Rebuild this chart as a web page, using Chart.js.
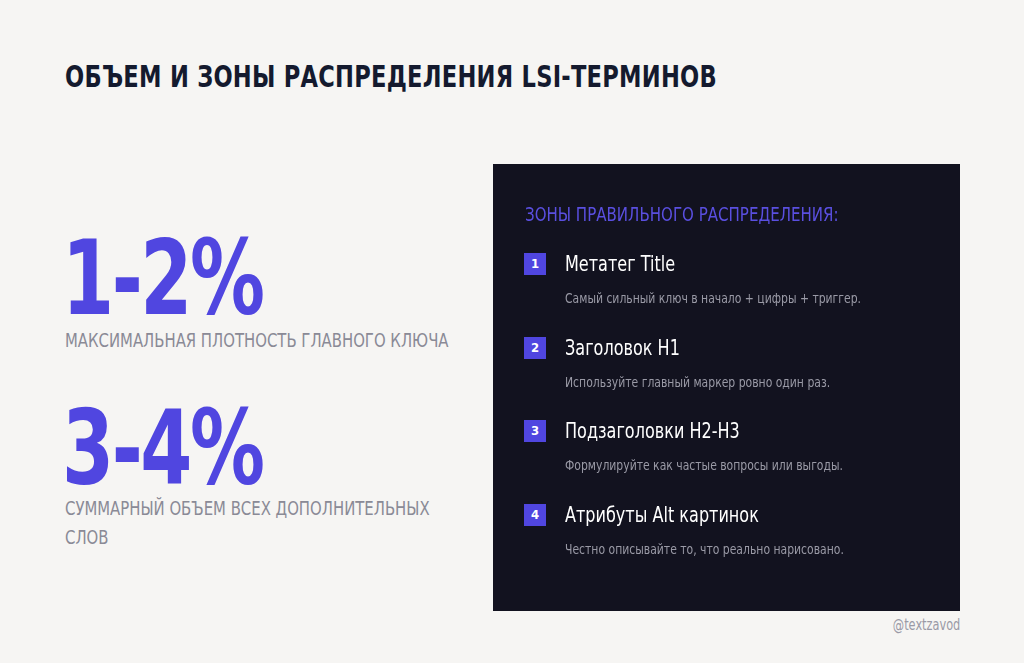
<!DOCTYPE html>
<html><head><meta charset="utf-8">
<script src="https://cdn.jsdelivr.net/npm/chart.js@4/dist/chart.umd.min.js"></script>
<style>
body{margin:0;width:1024px;height:663px;background:#f6f5f3;font-family:"DejaVu Sans Condensed","DejaVu Sans",sans-serif;position:relative;overflow:hidden}
.a{position:absolute;white-space:nowrap;transform-origin:left top}
#title{left:65px;top:58px;font-size:31px;font-weight:bold;color:#141a2e;letter-spacing:0.3px;transform:scaleX(0.81)}
.big{font-size:104px;font-weight:bold;color:#5046e0;line-height:1;left:62px;letter-spacing:-3px;transform:scaleX(0.8)}
.sub{font-size:19px;color:#8a8a96;left:65px;line-height:29px;transform:scaleX(0.87)}
#panel{left:493px;top:164px;width:467px;height:447px;background:#12121f}
#head{left:525px;top:203px;font-size:19px;color:#5a4fe0;transform:scaleX(0.88)}
.badge{left:524px;width:22px;height:22px;background:#5046e0;color:#fff;font-size:13px;font-weight:bold;text-align:center;line-height:22px}
.it{left:565px;font-size:21px;color:#fff;transform:scaleX(0.85)}
.ds{left:565px;font-size:14px;color:#9a9aa6;transform:scaleX(0.86)}
#foot{right:64px;top:616px;font-size:15px;color:#9a9aa6;transform-origin:right top;transform:scaleX(0.84)}
#c{position:absolute;left:493px;top:164px}
</style></head><body>
<div id="panel" class="a"></div>
<canvas id="c" width="467" height="447"></canvas>
<div id="root"></div>
<script>
const titleText="ОБЪЕМ И ЗОНЫ РАСПРЕДЕЛЕНИЯ LSI-ТЕРМИНОВ";
const bigValues=["1-2%","3-4%"];
const bigLabels=["МАКСИМАЛЬНАЯ ПЛОТНОСТЬ ГЛАВНОГО КЛЮЧА","СУММАРНЫЙ ОБЪЕМ ВСЕХ ДОПОЛНИТЕЛЬНЫХ<br>СЛОВ"];
const panelHeading="ЗОНЫ ПРАВИЛЬНОГО РАСПРЕДЕЛЕНИЯ:";
const itemTitles=["Метатег Title","Заголовок H1","Подзаголовки H2-H3","Атрибуты Alt картинок"];
const itemDescs=["Самый сильный ключ в начало + цифры + триггер.","Используйте главный маркер ровно один раз.","Формулируйте как частые вопросы или выгоды.","Честно описывайте то, что реально нарисовано."];
const footer="@textzavod";
let h=`<div id="title" class="a">${titleText}</div>`;
const bigTop=[226,396],subTop=[326,494];
bigValues.forEach((v,i)=>{h+=`<div class="a big" style="top:${bigTop[i]}px">${v}</div><div class="a sub" style="top:${subTop[i]}px">${bigLabels[i]}</div>`;});
h+=`<div id="head" class="a">${panelHeading}</div>`;
itemTitles.forEach((t,i)=>{const y=253+i*83.5;
h+=`<div class="a badge" style="top:${y}px">${i+1}</div><div class="a it" style="top:${y-1}px">${t}</div><div class="a ds" style="top:${y+37}px">${itemDescs[i]}</div>`;});
h+=`<div id="foot" class="a">${footer}</div>`;
document.getElementById('root').innerHTML=h;
new Chart(document.getElementById('c'),{type:'bar',data:{labels:[],datasets:[]},options:{responsive:false,animation:false,plugins:{legend:{display:false},tooltip:{enabled:false}},scales:{x:{display:false},y:{display:false}}}});
</script></body></html>
